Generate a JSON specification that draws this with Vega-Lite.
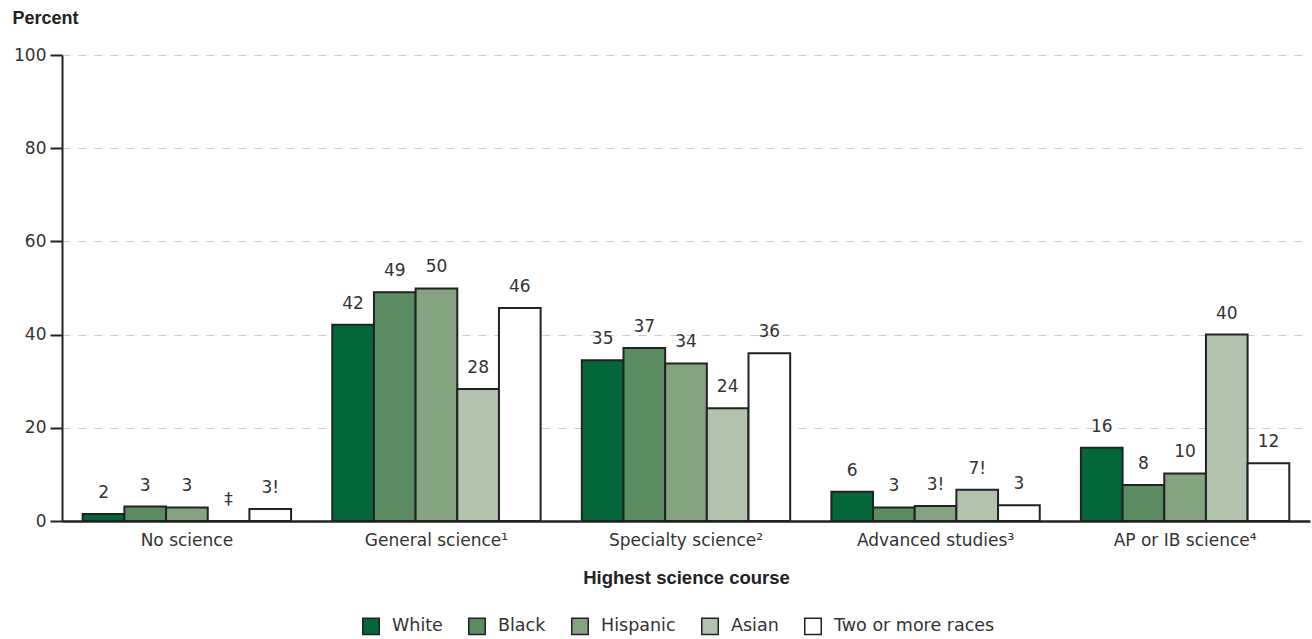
{
  "$schema": "https://vega.github.io/schema/vega-lite/v6.json",
  "width": 1248,
  "height": 466,
  "autosize": {"type": "none"},
  "padding": {"left": 62, "top": 55, "right": 2, "bottom": 118},
  "background": "white",
  "config": {"font": "DejaVu Sans", "view": {"stroke": null}},
  "data": {
    "values": [
      {"course": "No science", "race": "White", "percent": 1.5, "label": "2"},
      {"course": "No science", "race": "Black", "percent": 3.1, "label": "3"},
      {"course": "No science", "race": "Hispanic", "percent": 2.9, "label": "3"},
      {"course": "No science", "race": "Asian", "percent": 0, "label": "‡"},
      {"course": "No science", "race": "Two or more races", "percent": 2.6, "label": "3!"},
      {"course": "General science¹", "race": "White", "percent": 42.1, "label": "42"},
      {"course": "General science¹", "race": "Black", "percent": 49.1, "label": "49"},
      {"course": "General science¹", "race": "Hispanic", "percent": 49.9, "label": "50"},
      {"course": "General science¹", "race": "Asian", "percent": 28.3, "label": "28"},
      {"course": "General science¹", "race": "Two or more races", "percent": 45.7, "label": "46"},
      {"course": "Specialty science²", "race": "White", "percent": 34.5, "label": "35"},
      {"course": "Specialty science²", "race": "Black", "percent": 37.1, "label": "37"},
      {"course": "Specialty science²", "race": "Hispanic", "percent": 33.8, "label": "34"},
      {"course": "Specialty science²", "race": "Asian", "percent": 24.2, "label": "24"},
      {"course": "Specialty science²", "race": "Two or more races", "percent": 36.0, "label": "36"},
      {"course": "Advanced studies³", "race": "White", "percent": 6.3, "label": "6"},
      {"course": "Advanced studies³", "race": "Black", "percent": 2.9, "label": "3"},
      {"course": "Advanced studies³", "race": "Hispanic", "percent": 3.2, "label": "3!"},
      {"course": "Advanced studies³", "race": "Asian", "percent": 6.7, "label": "7!"},
      {"course": "Advanced studies³", "race": "Two or more races", "percent": 3.4, "label": "3"},
      {"course": "AP or IB science⁴", "race": "White", "percent": 15.7, "label": "16"},
      {"course": "AP or IB science⁴", "race": "Black", "percent": 7.7, "label": "8"},
      {"course": "AP or IB science⁴", "race": "Hispanic", "percent": 10.2, "label": "10"},
      {"course": "AP or IB science⁴", "race": "Asian", "percent": 40.0, "label": "40"},
      {"course": "AP or IB science⁴", "race": "Two or more races", "percent": 12.4, "label": "12"}
    ]
  },
  "encoding": {
    "x": {
      "field": "course",
      "type": "nominal",
      "sort": ["No science", "General science¹", "Specialty science²", "Advanced studies³", "AP or IB science⁴"],
      "scale": {"paddingInner": 0.165, "paddingOuter": 0.083},
      "axis": {
        "title": "Highest science course",
        "titleFont": "Liberation Sans",
        "titleFontSize": 18.5,
        "titleFontWeight": "bold",
        "titleColor": "#222",
        "titlePadding": 20,
        "labelFontSize": 17,
        "labelColor": "#333",
        "labelAngle": 0,
        "labelPadding": 11,
        "labelLimit": 300,
        "ticks": false,
        "domainColor": "#222",
        "domainWidth": 2.5
      }
    },
    "xOffset": {
      "field": "race",
      "type": "nominal",
      "sort": ["White", "Black", "Hispanic", "Asian", "Two or more races"],
      "scale": {"paddingInner": 0, "paddingOuter": 0}
    },
    "y": {
      "field": "percent",
      "type": "quantitative",
      "scale": {"domain": [0, 100]},
      "axis": {
        "title": "Percent",
        "titleFont": "Liberation Sans",
        "titleAngle": 0,
        "titleAlign": "left",
        "titleBaseline": "top",
        "titleX": -50,
        "titleY": -46,
        "titleFontSize": 18,
        "titleFontWeight": "bold",
        "titleColor": "#222",
        "values": [0, 20, 40, 60, 80, 100],
        "tickSize": 12,
        "tickWidth": 2,
        "tickColor": "#222",
        "domainColor": "#222",
        "domainWidth": 2,
        "gridDash": [8, 8],
        "gridColor": "#cccccc",
        "gridWidth": 1,
        "labelFontSize": 17,
        "labelColor": "#333",
        "labelPadding": 4
      }
    }
  },
  "layer": [
    {
      "mark": {"type": "bar", "stroke": "#222", "strokeWidth": 2},
      "encoding": {
        "fill": {
          "field": "race",
          "type": "nominal",
          "sort": ["White", "Black", "Hispanic", "Asian", "Two or more races"],
          "scale": {
            "domain": ["White", "Black", "Hispanic", "Asian", "Two or more races"],
            "range": ["#04673a", "#5b8b60", "#85a281", "#b1c2ad", "#ffffff"]
          },
          "legend": {
            "orient": "none",
            "legendX": 300,
            "legendY": 562,
            "direction": "horizontal",
            "title": null,
            "symbolType": "square",
            "symbolSize": 272,
            "symbolStrokeColor": "#222",
            "symbolStrokeWidth": 1.5,
            "symbolOpacity": 1,
            "labelFontSize": 17.5,
            "labelColor": "#333",
            "labelOffset": 12,
            "labelLimit": 400,
            "columnPadding": 22
          }
        }
      }
    },
    {
      "mark": {"type": "text", "dy": -16, "baseline": "alphabetic", "fontSize": 17, "color": "#333"},
      "encoding": {"text": {"field": "label", "type": "nominal"}}
    }
  ]
}
